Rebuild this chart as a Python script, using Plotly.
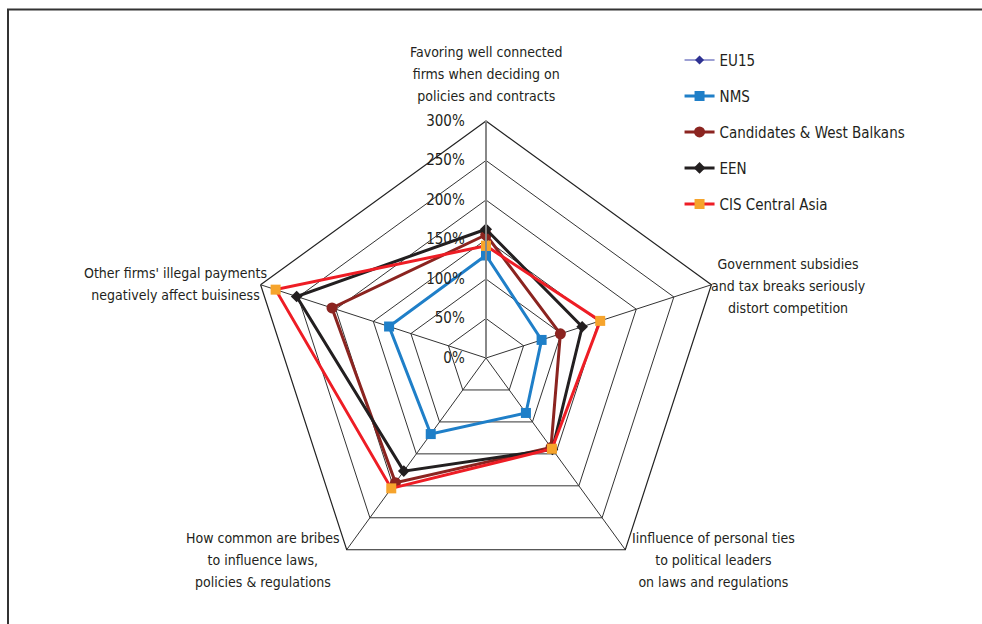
import plotly.graph_objects as go

categories = [
    "Favoring well connected<br>firms when deciding on<br>policies and contracts",
    "Government subsidies<br>and tax breaks seriously<br>distort competition",
    "Iinfluence of personal ties<br>to political leaders<br>on laws and regulations",
    "How common are bribes<br>to influence laws,<br>policies & regulations",
    "Other firms' illegal payments<br>negatively affect buisiness",
]
eu15 = [0, 0, 0, 0, 0]
nms = [130, 74, 86, 119, 129]
candidates = [156, 99, 140, 195, 205]
een = [163, 128, 143, 177, 252]
cis = [142, 152, 142, 204, 280]
tick_vals = [0, 50, 100, 150, 200, 250, 300]
tick_text = ["0%", "50%", "100%", "150%", "200%", "250%", "300%"]

FONT = "DejaVu Sans Condensed, Liberation Sans Narrow, Arial Narrow, sans-serif"
W, H = 982, 624
cx, cy, R = 486, 358, 237

series = [
    ("EU15", eu15, "#7d80c6", 1.5, "#2e3192", "diamond", 7),
    ("NMS", nms, "#1f7fc8", 3, "#1f7fc8", "square", 10),
    ("Candidates & West Balkans", candidates, "#8b2420", 3, "#8b2420", "circle", 11),
    ("EEN", een, "#231f20", 3, "#231f20", "diamond", 9),
    ("CIS Central Asia", cis, "#ee1d25", 3, "#f6a42c", "square", 10),
]

fig = go.Figure()
for i, (name, vals, lc, lw, mc, sym, ms) in enumerate(series):
    fig.add_trace(go.Scatterpolar(
        r=vals + vals[:1], theta=categories + categories[:1],
        mode="lines+markers", name=name, legendgroup=str(i),
        line=dict(color=lc, width=lw),
        marker=dict(color=mc, symbol=sym, size=ms, line=dict(width=0)),
    ))

fig.update_layout(
    width=W, height=H,
    margin=dict(l=0, r=0, t=0, b=0),
    paper_bgcolor="white",
    font=dict(family=FONT, color="#231f20", size=14),
    showlegend=True,
    legend=dict(x=0.692, y=0.930, xanchor="left", yanchor="top",
                font=dict(size=15, family=FONT, color="#231f20"),
                traceorder="grouped", tracegroupgap=13.5,
                bgcolor="rgba(0,0,0,0)"),
    polar=dict(
        domain=dict(x=[(cx - R) / W, (cx + R) / W], y=[1 - (cy + R) / H, 1 - (cy - R) / H]),
        gridshape="linear",
        bgcolor="white",
        angularaxis=dict(rotation=90, direction="clockwise", showticklabels=False,
                         ticks="", gridcolor="#333333", gridwidth=1,
                         linecolor="#222222", linewidth=1.2, showline=True),
        radialaxis=dict(range=[0, 300], tickvals=tick_vals, ticktext=tick_text,
                        angle=90, tickangle=90, side="counterclockwise",
                        showline=True, linecolor="#888888", linewidth=2,
                        gridcolor="#333333", gridwidth=1,
                        ticks="outside", ticklen=15, tickcolor="rgba(0,0,0,0)",
                        tickfont=dict(size=15, family=FONT, color="#231f20")),
    ),
    shapes=[dict(type="rect", xref="paper", yref="paper",
                 x0=8 / W, x1=1.02, y0=-0.05, y1=1 - 9.5 / H,
                 line=dict(color="#333333", width=2))],
)

label_pos = [(486, 74), (788, 286), (713, 560), (263, 560), (175, 284)]
for text, (x, y) in zip(categories, label_pos):
    fig.add_annotation(x=x / W, y=1 - y / H, xref="paper", yref="paper",
                       text="<br>".join(f"<span style='font-size:14px'>{t}</span>" for t in text.split("<br>")),
                       showarrow=False, xanchor="center", yanchor="middle",
                       align="center", font=dict(size=17, family=FONT, color="#231f20"))

fig.write_html("out.html", post_script="document.body.style.margin='0';",
               config={"displayModeBar": False})
